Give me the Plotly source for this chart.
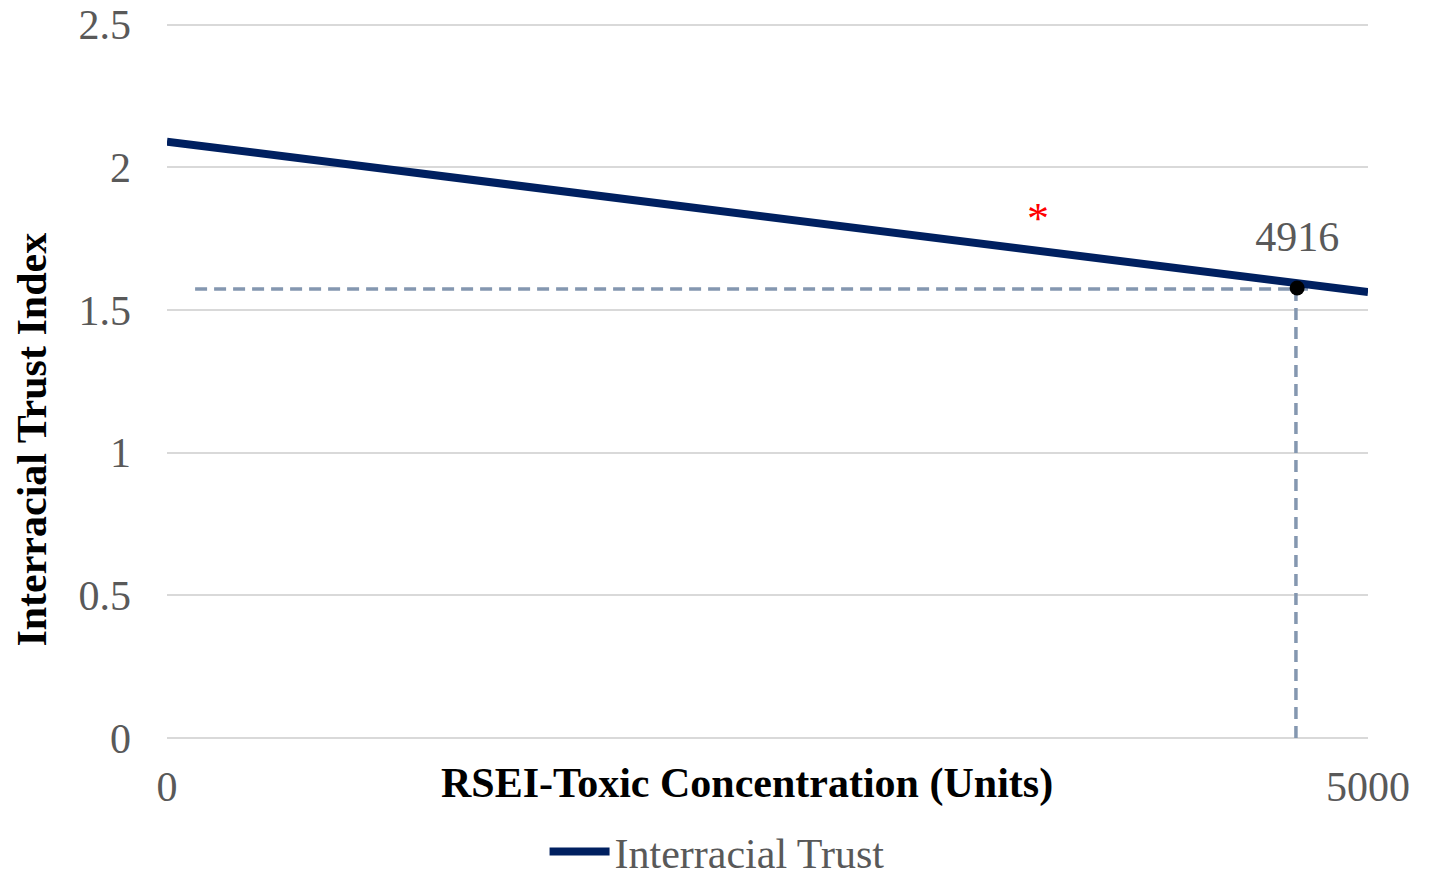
import plotly.graph_objects as go

# Data
trend_x = [0, 5000]
trend_y = [2.09, 1.563]
series_name = "Interracial Trust"

point_x = [4705]
point_y = [1.577]
label_y = [1.743]
point_label = ["4916"]

hline_x = [117, 4750]
hline_y = [1.574, 1.574]
vline_x = [4700, 4700]
vline_y = [1.574, 0]

star_x = [3626]
star_y = [1.809]

x_tick_vals = [0, 5000]
x_tick_text = ["0", "5000"]
y_tick_vals = [0, 0.5, 1, 1.5, 2, 2.5]
y_tick_text = ["0", "0.5", "1", "1.5", "2", "2.5"]

x_title = "RSEI-Toxic Concentration (Units)"
y_title = "Interracial Trust Index"

FONT = "Liberation Serif, Times New Roman, serif"
GRAY = "#595959"
DASH = "#8497b0"
NAVY = "#002060"

fig = go.Figure()

fig.add_trace(go.Scatter(x=hline_x, y=hline_y, mode="lines",
                         line=dict(color=DASH, width=3.5, dash="12px,7px"),
                         showlegend=False, hoverinfo="skip"))
fig.add_trace(go.Scatter(x=vline_x, y=vline_y, mode="lines",
                         line=dict(color=DASH, width=3.5, dash="12px,7px"),
                         showlegend=False, hoverinfo="skip"))
fig.add_trace(go.Scatter(x=trend_x, y=trend_y, mode="lines", name=series_name,
                         line=dict(color=NAVY, width=8)))
fig.add_trace(go.Scatter(x=point_x, y=point_y, mode="markers",
                         marker=dict(color="black", size=15),
                         showlegend=False, cliponaxis=False))
fig.add_trace(go.Scatter(x=point_x, y=label_y, mode="text", text=point_label,
                         textfont=dict(family=FONT, size=42, color=GRAY),
                         showlegend=False, cliponaxis=False))
fig.add_trace(go.Scatter(x=star_x, y=star_y, mode="text", text=["*"],
                         textfont=dict(family=FONT, size=44, color="#ff0000"),
                         showlegend=False, cliponaxis=False))

# The page body has an 8px margin, so the figure is 8px smaller and margins shifted
fig.update_layout(
    width=1432, height=869,
    paper_bgcolor="white", plot_bgcolor="white",
    margin=dict(l=159, r=72, t=15, b=139, autoexpand=False),
    font=dict(family=FONT, size=42, color=GRAY),
    showlegend=True,
    legend=dict(orientation="h", x=0.458, xanchor="center", y=-0.159, yanchor="middle",
                font=dict(family=FONT, size=42, color=GRAY), itemwidth=60),
    xaxis=dict(range=[0, 5000], tickvals=x_tick_vals, ticktext=x_tick_text,
               showgrid=False, zeroline=False, showline=False, automargin=False,
               tickfont=dict(family=FONT, size=42, color=GRAY),
               ticks="", ticklabelstandoff=20, ticklabeloverflow="allow"),
    yaxis=dict(range=[0, 2.506], tickvals=y_tick_vals, ticktext=y_tick_text,
               showgrid=True, gridcolor="#d9d9d9", gridwidth=2,
               zeroline=True, zerolinecolor="#d9d9d9", zerolinewidth=2,
               showline=False, ticks="", automargin=False,
               tickfont=dict(family=FONT, size=42, color=GRAY),
               ticklabelstandoff=35, ticklabeloverflow="allow"),
    annotations=[
        dict(text=f"<b>{x_title}</b>", xref="paper", yref="paper",
             x=0.483, y=-0.063, xanchor="center", yanchor="middle",
             showarrow=False, font=dict(family=FONT, size=42, color="black")),
        dict(text=f"<b>{y_title}</b>", xref="paper", yref="paper",
             x=-0.112, y=0.418, xanchor="center", yanchor="middle", textangle=-90,
             showarrow=False, font=dict(family=FONT, size=42, color="black")),
    ],
)

fig.write_html("out.html")
